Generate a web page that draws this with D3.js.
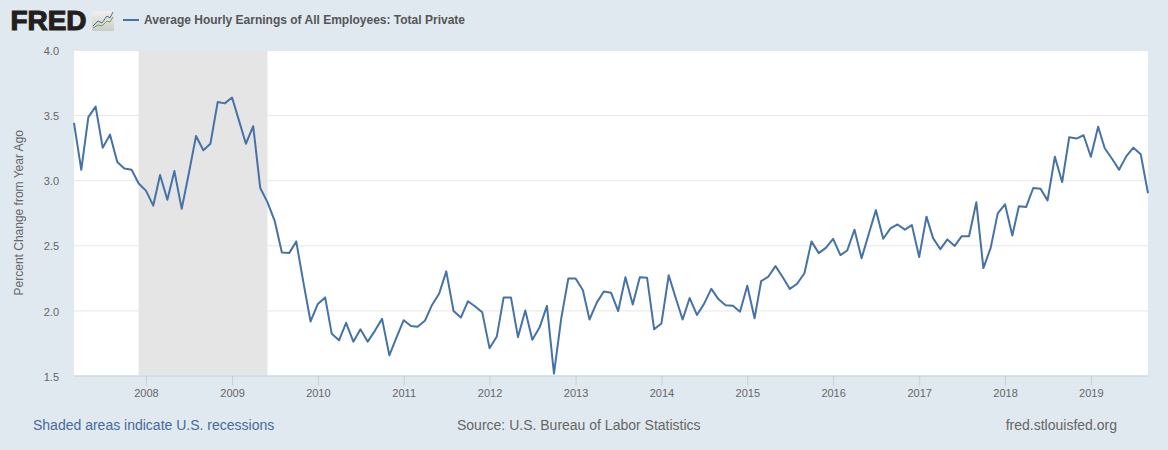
<!DOCTYPE html>
<html>
<head>
<meta charset="utf-8">
<script src="https://cdn.jsdelivr.net/npm/d3@7/dist/d3.min.js"></script>
<style>
html,body{margin:0;padding:0;background:#e1e9f0;overflow:hidden}
svg{display:block;font-family:"Liberation Sans",Arial,sans-serif}
</style>
</head>
<body>
<svg id="c" width="1168" height="450"></svg>
<script>
const seriesName = "Average Hourly Earnings of All Employees: Total Private";
const yLabel = "Percent Change from Year Ago";
const startMonth = [2007, 2];
const values = [
3.44,3.08,3.485,3.565,3.25,3.35,3.14,3.09,3.08,2.975,
2.92,2.805,3.04,2.85,3.07,2.78,3.05,3.34,3.23,3.28,3.60,3.59,
3.635,3.45,3.28,3.415,2.94,2.83,2.69,2.445,2.44,2.53,2.21,1.915,2.05,2.10,
1.82,1.77,1.905,1.76,1.855,1.76,1.845,1.935,1.655,1.79,1.925,1.88,
1.875,1.92,2.04,2.13,2.30,1.995,1.945,2.07,2.03,1.985,1.71,1.80,
2.10,2.10,1.795,2.00,1.775,1.87,2.035,1.515,1.94,2.245,2.245,2.155,
1.93,2.06,2.145,2.135,1.995,2.255,2.045,2.255,2.25,1.855,1.90,2.27,
2.105,1.93,2.095,1.965,2.05,2.165,2.085,2.04,2.035,1.99,2.19,1.94,
2.225,2.26,2.34,2.255,2.165,2.205,2.285,2.53,2.44,2.48,2.55,2.425,
2.46,2.62,2.40,2.59,2.77,2.55,2.63,2.66,2.62,2.655,2.41,2.72,
2.555,2.47,2.545,2.495,2.57,2.57,2.83,2.325,2.48,2.745,2.815,2.575,
2.80,2.795,2.94,2.935,2.845,3.18,2.985,3.33,3.32,3.345,3.18,3.41,
3.245,3.165,3.08,3.185,3.25,3.20,2.90
];
const recessionRange = [new Date(2007,11,1), new Date(2009,5,1)];
const yTicks = [1.5,2.0,2.5,3.0,3.5,4.0];
const xTickYears = [2008,2009,2010,2011,2012,2013,2014,2015,2016,2017,2018,2019];
const footerLeft = "Shaded areas indicate U.S. recessions";
const footerMid = "Source: U.S. Bureau of Labor Statistics";
const footerRight = "fred.stlouisfed.org";

const dates = values.map((_, i) => new Date(startMonth[0], startMonth[1] + i, 1));
const svg = d3.select("#c");
const L = 74, R = 1148, T = 50, B = 375.5;
const x = d3.scaleTime().domain([dates[0], dates[dates.length-1]]).range([L, R]);
const y = d3.scaleLinear().domain([1.5, 4]).range([B, T]);

svg.append("rect").attr("width",1168).attr("height",450).attr("fill","#e1e9f0");
svg.append("rect").attr("x",L).attr("y",T).attr("width",R-L).attr("height",B-T).attr("fill","#fff");

// gridlines + y labels
const ya = d3.axisLeft(y).tickValues(yTicks).tickSize(R-L).tickPadding(15).tickFormat(d3.format(".1f"));
const gy = svg.append("g").attr("transform",`translate(${R},0)`).call(ya);
gy.select(".domain").remove();
gy.selectAll("line").attr("stroke","#e6e6e6").attr("stroke-width",1);
gy.selectAll("text").attr("fill","#666").attr("font-size",11).attr("font-family","Liberation Sans").attr("dy","0.42em");
gy.selectAll(".tick").filter(d => d === 1.5).select("line").remove();

// recession band
svg.append("rect").attr("x",x(recessionRange[0])).attr("y",T)
  .attr("width",x(recessionRange[1])-x(recessionRange[0])).attr("height",B-T).attr("fill","#e5e5e5");

// x axis
const xa = d3.axisBottom(x).tickValues(xTickYears.map(v => new Date(v,0,1))).tickSize(10).tickPadding(4).tickFormat(d3.timeFormat("%Y"));
const gx = svg.append("g").attr("transform",`translate(0,${B})`).call(xa);
gx.select(".domain").attr("stroke","#c0d0e0").attr("d",`M${L},0.5H${R}`);
gx.selectAll("line").attr("stroke","#c0d0e0");
gx.selectAll("text").attr("fill","#666").attr("font-size",11).attr("font-family","Liberation Sans");

// line
const line = d3.line().x((d,i)=>x(dates[i])).y(d=>y(d)).curve(d3.curveLinear);
svg.append("path").datum(values).attr("d",line).attr("fill","none").attr("stroke","#4572a7")
  .attr("stroke-width",2).attr("stroke-linejoin","round");

// y title
svg.append("text").attr("transform",`translate(23,${(T+B)/2}) rotate(-90)`).attr("text-anchor","middle")
  .attr("fill","#666").attr("font-size",12).text(yLabel);

// logo
svg.append("text").attr("x",10.5).attr("y",30).attr("font-size",27).attr("font-weight",700)
  .attr("fill","#231f20").attr("stroke","#231f20").attr("stroke-width",1.1).attr("textLength",76).attr("lengthAdjust","spacingAndGlyphs").text("FRED");
const defs = svg.append("defs");
const grad = defs.append("linearGradient").attr("id","lg").attr("x1",0).attr("y1",0).attr("x2",0).attr("y2",1);
grad.append("stop").attr("offset",0).attr("stop-color","#f2f0e8");
grad.append("stop").attr("offset",1).attr("stop-color","#c9cdc8");
svg.append("rect").attr("x",92).attr("y",11).attr("width",22).attr("height",20).attr("rx",1).attr("fill","url(#lg)");
svg.append("path").attr("d","M93,26 L98,21 L102,23 L107,16 L110,18 L113,12").attr("fill","none").attr("stroke","#4572a7").attr("stroke-width",1);
svg.append("path").attr("d","M93,28 L98,25 L102,26 L107,21 L110,22 L113,17").attr("fill","none").attr("stroke","#7a9a55").attr("stroke-width",1);

// legend
svg.append("line").attr("x1",123).attr("x2",139).attr("y1",20).attr("y2",20).attr("stroke","#4572a7").attr("stroke-width",2);
svg.append("text").attr("x",144).attr("y",24).attr("font-size",12).attr("font-weight",700).attr("fill","#555").text(seriesName);

// footer
svg.append("text").attr("x",33).attr("y",430).attr("font-size",14).attr("fill","#456b9c").text(footerLeft);
svg.append("text").attr("x",457).attr("y",430).attr("font-size",14).attr("fill","#666").text(footerMid);
svg.append("text").attr("x",1117).attr("y",430).attr("text-anchor","end").attr("font-size",14).attr("fill","#666").text(footerRight);
</script>
</body>
</html>
